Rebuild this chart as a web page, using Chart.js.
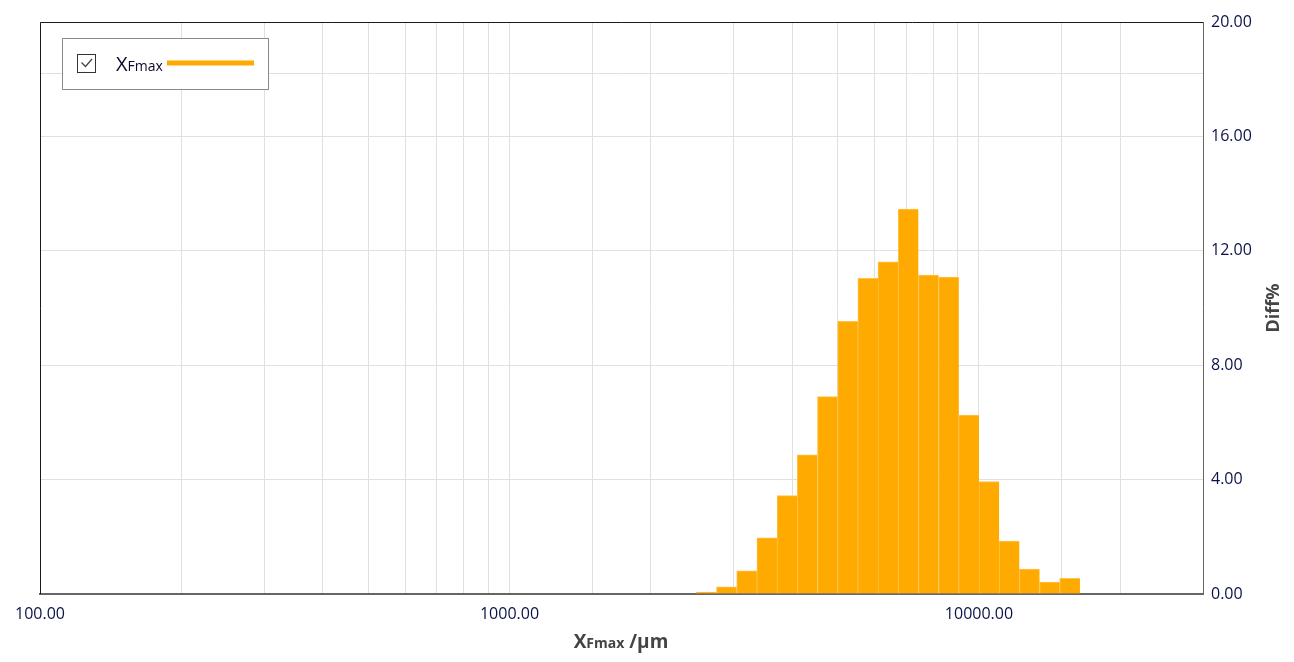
<!DOCTYPE html>
<html><head><meta charset="utf-8">
<script src="https://cdn.jsdelivr.net/npm/chart.js@4"></script>
<style>html,body{margin:0;padding:0;background:#fff;overflow:hidden}</style>
</head><body>
<canvas id="c" width="1294" height="662"></canvas>
<script>
// ---- data ----
const binEdges = [2500, 2760.2, 3047.5, 3364.8, 3715.0, 4101.7, 4528.6, 5000, 5520.4, 6095.1,
                  6729.5, 7429.9, 8203.4, 9057.2, 10000, 11040.9, 12190.1, 13459.0, 14859.9, 16406.7];
const diffPercent = [0.07, 0.25, 0.81, 1.96, 3.44, 4.87, 6.90, 9.53, 11.04, 11.61,
                     13.46, 11.15, 11.08, 6.26, 3.93, 1.85, 0.87, 0.42, 0.55];
const yTickValues = [0, 4, 8, 12, 16, 18.2, 20];
const yTickLabels = ['0.00', '4.00', '8.00', '12.00', '16.00', '', '20.00'];
const xMajorTicks = [100, 1000, 10000];
const xMajorLabels = ['100.00', '1000.00', '10000.00'];
const seriesMain = 'X';
const seriesSub = 'Fmax';
const xTitleMain = 'X', xTitleSub = 'Fmax', xTitleUnit = ' /µm';
const yTitle = 'Diff%';

const barColor = '#FFAA00';
const tickColor = '#0a1248';
const titleColor = '#444444';
const FONT = '"Open Sans", "Noto Sans", sans-serif';

const points = diffPercent.map((v, i) => ({ x: Math.sqrt(binEdges[i] * binEdges[i + 1]), y: v }));

const framePlugin = {
  id: 'frame',
  afterDraw(chart) {
    const { ctx, chartArea: a } = chart;
    ctx.save();
    // left and top border
    ctx.strokeStyle = '#1a1a1a';
    ctx.lineWidth = 1;
    ctx.beginPath();
    ctx.moveTo(a.left + 0.5, a.bottom);
    ctx.lineTo(a.left + 0.5, a.top + 0.5);
    ctx.lineTo(a.right, a.top + 0.5);
    ctx.stroke();

    // legend box
    const lx = 62, ly = 38, lw = 206, lh = 51;
    ctx.fillStyle = '#ffffff';
    ctx.fillRect(lx, ly, lw, lh);
    ctx.strokeStyle = '#8a8a8a';
    ctx.strokeRect(lx + 0.5, ly + 0.5, lw, lh);
    // checkbox
    ctx.strokeStyle = '#333333';
    ctx.strokeRect(77.5, 54.5, 18, 18);
    ctx.strokeStyle = '#444444';
    ctx.lineWidth = 1.3;
    ctx.beginPath();
    ctx.moveTo(81.5, 62.5);
    ctx.lineTo(85.5, 66.5);
    ctx.lineTo(92, 59);
    ctx.stroke();
    // label
    ctx.fillStyle = '#0a0a2a';
    ctx.textBaseline = 'alphabetic';
    ctx.textAlign = 'left';
    ctx.font = '20px ' + FONT;
    ctx.fillText(seriesMain, 116, 71);
    const w1 = ctx.measureText(seriesMain).width;
    ctx.font = '14px ' + FONT;
    ctx.fillText(seriesSub, 116 + w1, 71);
    // line sample
    ctx.strokeStyle = barColor;
    ctx.lineWidth = 5;
    ctx.beginPath();
    ctx.moveTo(167, 63);
    ctx.lineTo(254, 63);
    ctx.stroke();

    // x axis title
    ctx.fillStyle = titleColor;
    ctx.font = 'bold 19px ' + FONT;
    const a1 = ctx.measureText(xTitleMain).width;
    const a3 = ctx.measureText(xTitleUnit).width;
    ctx.font = 'bold 14px ' + FONT;
    const a2 = ctx.measureText(xTitleSub).width;
    let tx = 621 - (a1 + a2 + a3) / 2;
    const ty = 648;
    ctx.font = 'bold 19px ' + FONT;
    ctx.fillText(xTitleMain, tx, ty);
    ctx.font = 'bold 14px ' + FONT;
    ctx.fillText(xTitleSub, tx + a1, ty);
    ctx.font = 'bold 19px ' + FONT;
    ctx.fillText(xTitleUnit, tx + a1 + a2, ty);

    // y axis title (reads bottom to top)
    ctx.translate(1279, (a.top + a.bottom) / 2);
    ctx.rotate(-Math.PI / 2);
    ctx.textAlign = 'center';
    ctx.textBaseline = 'alphabetic';
    ctx.font = 'bold 18px ' + FONT;
    ctx.fillText(yTitle, 0, 0);
    ctx.restore();
  }
};

new Chart(document.getElementById('c'), {
  type: 'bar',
  data: {
    datasets: [{
      label: seriesMain + seriesSub,
      data: points,
      backgroundColor: barColor,
      borderColor: '#FFC24A',
      borderWidth: { left: 1, top: 1, right: 0, bottom: 0 },
      borderSkipped: false,
      barPercentage: 1,
      categoryPercentage: 1
    }]
  },
  options: {
    responsive: false,
    animation: false,
    devicePixelRatio: 1,
    layout: { padding: { left: 40, top: 22, right: 0, bottom: 0 } },
    plugins: { legend: { display: false }, tooltip: { enabled: false } },
    scales: {
      x: {
        type: 'logarithmic',
        min: 100,
        max: 30000,
        offset: false,
        grid: { offset: false, color: '#e0e0e0', lineWidth: 1, drawTicks: false },
        border: { display: true, color: '#666666', width: 2 },
        ticks: {
          autoSkip: false,
          maxRotation: 0,
          padding: 11,
          color: tickColor,
          font: { family: FONT, size: 16 },
          callback: (v) => {
            const i = xMajorTicks.indexOf(Math.round(v));
            return i >= 0 ? xMajorLabels[i] : '';
          }
        },
        afterFit: (s) => { s.height = 68; }
      },
      y: {
        position: 'right',
        min: 0,
        max: 20,
        grid: { color: '#e0e0e0', lineWidth: 1, drawTicks: false },
        border: { display: true, color: '#666666', width: 1 },
        afterBuildTicks: (s) => { s.ticks = yTickValues.map(v => ({ value: v })); },
        ticks: {
          padding: 8,
          color: tickColor,
          font: { family: FONT, size: 16 },
          callback: (v, i) => yTickLabels[i]
        },
        afterFit: (s) => { s.width = 91; }
      }
    }
  },
  plugins: [framePlugin]
});
</script>
</body></html>
